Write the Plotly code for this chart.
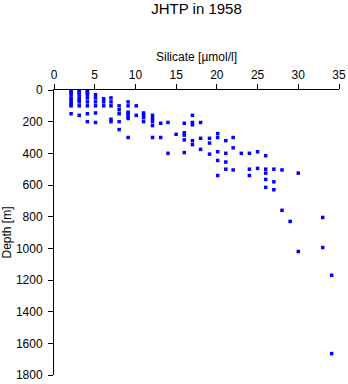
import plotly.graph_objects as go

# Silicate [µmol/l] and Depth [m]
silicate = [
    2.1, 2.1, 2.1, 2.1, 2.1, 2.1, 2.1, 2.1, 2.1, 2.1,
    3.1, 3.1, 3.1, 3.1, 3.1, 3.1, 3.1, 3.1, 3.1,
    4.1, 4.1, 4.1, 4.1, 4.1, 4.1, 4.1, 4.1, 4.1,
    5.1, 5.1, 5.1, 5.1, 5.1, 5.1,
    6.1, 6.1, 6.1,
    7.0, 7.0, 7.0, 7.0, 7.0,
    8.0, 8.0, 8.0, 8.0, 8.0,
    9.1, 9.1, 9.1, 9.1, 9.1, 9.1, 9.1,
    10.1, 10.1,
    11.0, 11.0, 11.0, 11.0,
    12.1, 12.1, 12.1, 12.1, 12.1,
    13.1, 13.1,
    14.0, 14.0,
    15.0,
    16.0, 16.0, 16.0, 16.0, 16.0,
    17.0, 17.0, 17.0, 17.0, 17.0,
    18.0, 18.0, 18.0,
    19.1, 19.1, 19.1,
    20.1, 20.1, 20.1, 20.1, 20.1,
    21.1, 21.1, 21.1, 21.1,
    22.0, 22.0, 22.0,
    23.0,
    24.0, 24.0, 24.0,
    25.0, 25.0,
    26.0, 26.0, 26.0, 26.0, 26.0,
    27.0, 27.0, 27.0,
    28.0, 28.0,
    29.0,
    30.0, 30.0,
    33.0, 33.0,
    34.1, 34.1,
]
depth = [
    0, 10, 20, 30, 50, 60, 75, 90, 100, 150,
    0, 10, 20, 30, 50, 60, 75, 100, 160,
    0, 10, 20, 30, 50, 75, 100, 150, 200,
    30, 50, 75, 100, 145, 205,
    55, 75, 100,
    50, 75, 100, 185, 200,
    100, 125, 150, 200, 250,
    75, 100, 140, 150, 165, 180, 300,
    100, 160,
    145, 160, 175, 200,
    160, 180, 200, 225, 300,
    210, 300,
    205, 400,
    280,
    210, 270, 285, 315, 395,
    160, 205, 220, 320, 345,
    205, 305, 375,
    305, 335, 405,
    275, 300, 390, 445, 540,
    320, 400, 455, 500,
    300, 365, 505,
    400,
    400, 500, 540,
    390, 495,
    415, 500, 525, 565, 615,
    500, 580, 630,
    505, 760,
    830,
    525, 1020,
    805, 995,
    1170, 1665,
]

x_ticks = [0, 5, 10, 15, 20, 25, 30, 35]
y_ticks = [0, 200, 400, 600, 800, 1000, 1200, 1400, 1600, 1800]

FONT = "Liberation Sans, Arial, Helvetica, sans-serif"

fig = go.Figure(
    go.Scatter(
        x=silicate,
        y=depth,
        mode="markers",
        marker=dict(symbol="square", size=3.5, color="#0000ff", line=dict(width=0)),
        hoverinfo="x+y",
    )
)

fig.update_layout(
    width=348,
    height=384,
    margin=dict(l=54, r=9, t=90, b=9, autoexpand=False),
    paper_bgcolor="white",
    plot_bgcolor="white",
    showlegend=False,
    font=dict(family=FONT, size=12, color="black"),
    title=dict(
        text="JHTP in 1958",
        x=0.5,
        xref="paper",
        xanchor="center",
        y=1 - 9 / 384,
        yref="container",
        yanchor="middle",
        font=dict(family=FONT, size=15, color="black"),
    ),
)

fig.update_xaxes(
    side="top",
    range=[0, 35],
    tickvals=x_ticks,
    ticktext=[str(v) for v in x_ticks],
    ticks="outside",
    ticklen=5,
    tickcolor="black",
    showline=True,
    linecolor="black",
    linewidth=1,
    showgrid=False,
    zeroline=False,
    automargin=False,
    title=dict(text="Silicate [µmol/l]", font=dict(family=FONT, size=12), standoff=4),
)

fig.update_yaxes(
    range=[1800, 0],
    tickvals=y_ticks,
    ticktext=[str(v) for v in y_ticks],
    ticks="outside",
    ticklen=5,
    tickcolor="black",
    showline=True,
    linecolor="black",
    linewidth=1,
    showgrid=False,
    zeroline=False,
    automargin=False,
    ticklabelstandoff=3,
    title=dict(text="Depth [m]", font=dict(family=FONT, size=12), standoff=2),
)

fig.write_html("out.html")
